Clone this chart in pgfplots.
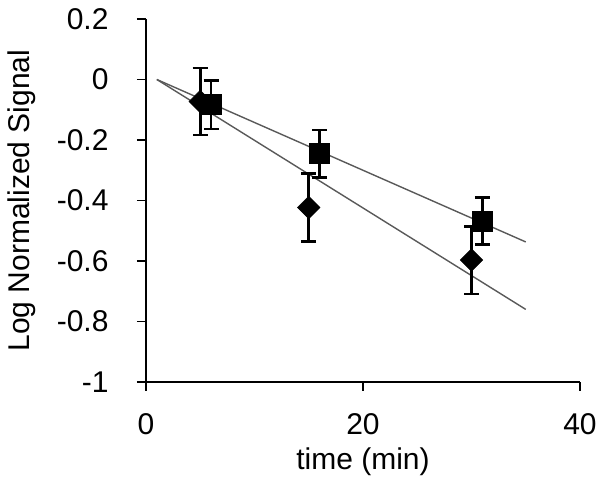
\documentclass[border=0pt]{standalone}
\usepackage{fontspec}
\setmainfont{Liberation Sans}
\usepackage{pgfplots}
\pgfplotsset{compat=1.18}

\begin{document}
\begin{tikzpicture}
\begin{axis}[
  name=ax, scale only axis, width=434pt, height=363pt,
  xmin=0, xmax=40, ymin=-1, ymax=0.2,
  xtick={0,20,40}, ytick={-1,-0.8,...,0.2},
  yticklabels={-1,-0.8,-0.6,-0.4,-0.2,0,0.2},
  axis lines*=left, axis line style={line width=1.6pt},
  tick align=outside, major tick length=9pt,
  tick style={line width=1.6pt, black},
  /pgf/number format/assume math mode=true,
  font=\fontsize{30}{36}\selectfont,
  xticklabel style={yshift=-19pt},
  yticklabel style={xshift=-25pt},
  xlabel={time (min)}, ylabel={Log Normalized Signal},
  xlabel style={at={(axis description cs:0.5,-0.22)}, anchor=center},
  ylabel style={at={(axis description cs:-0.2857,0.5)}, anchor=center},
  clip=false]
% trend lines
\addplot[gray!70!black, line width=1.4pt, no marks] coordinates {(1,0) (35,-0.537)};
\addplot[gray!70!black, line width=1.4pt, no marks] coordinates {(1,0) (35,-0.760)};
% diamonds
\addplot[black, only marks, mark=square*, mark size=8pt,
  mark options={rotate=45},
  error bars/.cd, y dir=both, y explicit,
  error bar style={line width=2.6pt},
  error mark options={line width=2.6pt, mark size=7.5pt, rotate=90}]
  coordinates {(5,-0.073) +- (0,0.111) (15,-0.423) +- (0,0.112) (30,-0.597) +- (0,0.112)};
% squares
\addplot[black, only marks, mark=square*, mark size=10pt,
  error bars/.cd, y dir=both, y explicit,
  error bar style={line width=2.6pt},
  error mark options={line width=2.6pt, mark size=7.5pt, rotate=90}]
  coordinates {(6,-0.083) +- (0,0.08) (16,-0.245) +- (0,0.078) (31,-0.468) +- (0,0.078)};
\end{axis}
\path ([shift={(-146pt,-107pt)}]ax.south west) rectangle ([shift={(456pt,382pt)}]ax.south west);
\end{tikzpicture}
\end{document}
